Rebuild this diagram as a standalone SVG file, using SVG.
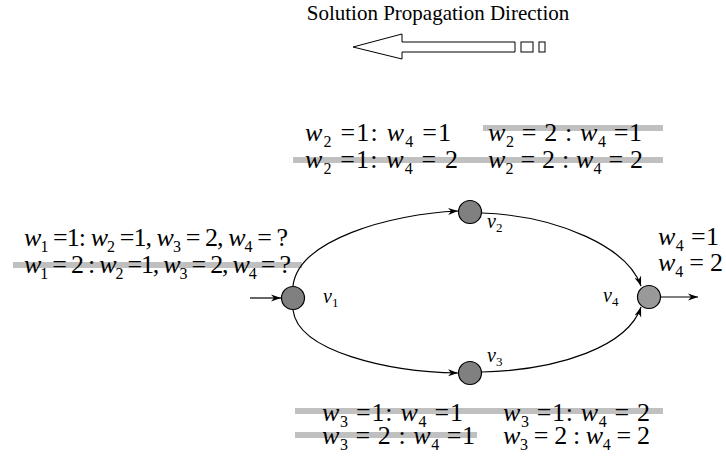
<svg xmlns="http://www.w3.org/2000/svg" width="726" height="465" viewBox="0 0 726 465">
<defs>
<style>
text{font-family:"Liberation Serif","Times New Roman",serif;fill:#000}
.m{font-size:26px}
.i{font-style:italic}
.s{font-size:16px}
.vl{font-size:20px}
.vs{font-size:13px}
.bar{stroke:#c0c0c0;stroke-width:6;fill:none}
.edge{stroke:#000;stroke-width:1.2;fill:none;marker-end:url(#ah)}
.node{fill:#808080;stroke:#000;stroke-width:1.2}
.box{fill:#fff;stroke:#000;stroke-width:1}
</style>
<marker id="ah" viewBox="0 0 10 10" refX="10" refY="5" markerWidth="10" markerHeight="10" markerUnits="userSpaceOnUse" orient="auto">
<path d="M0,1.5 L10,5 L0,8.5 L3,5 Z" fill="#000"/>
</marker>
</defs>
<rect width="726" height="465" fill="#fff"/>

<g id="title">
<text x="438" y="20" text-anchor="middle" style="font-size:21px">Solution Propagation Direction</text>
<path class="box" d="M353,47 L402,34 L402,42 L515,42 L515,52 L402,52 L402,59 Z"/>
<rect class="box" x="521" y="42" width="12" height="10"/>
<rect class="box" x="539" y="42" width="6" height="10"/>
</g>

<g id="bars">
<line class="bar" x1="483" y1="128" x2="663" y2="128"/>
<line class="bar" x1="293" y1="160" x2="663" y2="160"/>
<line class="bar" x1="13" y1="265" x2="302" y2="265"/>
<line class="bar" x1="295" y1="411" x2="663" y2="411"/>
<line class="bar" x1="295" y1="435" x2="477" y2="435"/>
</g>

<g id="connectors">
<path class="edge" d="M250,298 L281,298"/>
<path class="edge" d="M293,286 C298,240 390,214 458,211"/>
<path class="edge" d="M482,213 C560,216 628,248 641,286"/>
<path class="edge" d="M293,310 C298,352 390,372 458,373"/>
<path class="edge" d="M482,372 C560,370 628,346 641,307"/>
<path class="edge" d="M661,297 L698,297"/>
</g>

<g id="v1"><circle class="node" cx="293" cy="298" r="11.5"/>
<text x="323" y="303"><tspan class="i vl">v</tspan><tspan class="vs" dy="4">1</tspan></text></g>
<g id="v2"><circle class="node" cx="470" cy="212" r="11.5"/>
<text x="487" y="228"><tspan class="i vl">v</tspan><tspan class="vs" dy="4">2</tspan></text></g>
<g id="v3"><circle class="node" cx="470" cy="373" r="11.5"/>
<text x="487" y="362"><tspan class="i vl">v</tspan><tspan class="vs" dy="4">3</tspan></text></g>
<g id="v4"><circle class="node" cx="649" cy="297" r="11.5" style="fill:#999"/>
<text x="603" y="302"><tspan class="i vl">v</tspan><tspan class="vs" dy="4">4</tspan></text></g>

<g id="labels-top">
<text x="305" y="141" class="m" textLength="146" lengthAdjust="spacing"><tspan class="i">w</tspan><tspan class="s" dy="6">2</tspan><tspan dy="-6"> =1: </tspan><tspan class="i">w</tspan><tspan class="s" dy="6">4</tspan><tspan dy="-6"> =1</tspan></text>
<text x="488" y="141" class="m" textLength="154" lengthAdjust="spacing"><tspan class="i">w</tspan><tspan class="s" dy="6">2</tspan><tspan dy="-6"> = 2 : </tspan><tspan class="i">w</tspan><tspan class="s" dy="6">4</tspan><tspan dy="-6"> =1</tspan></text>
<text x="305" y="168" class="m" textLength="153" lengthAdjust="spacing"><tspan class="i">w</tspan><tspan class="s" dy="6">2</tspan><tspan dy="-6"> =1: </tspan><tspan class="i">w</tspan><tspan class="s" dy="6">4</tspan><tspan dy="-6"> = 2</tspan></text>
<text x="488" y="168" class="m" textLength="155" lengthAdjust="spacing"><tspan class="i">w</tspan><tspan class="s" dy="6">2</tspan><tspan dy="-6"> = 2 : </tspan><tspan class="i">w</tspan><tspan class="s" dy="6">4</tspan><tspan dy="-6"> = 2</tspan></text>
</g>

<g id="labels-left">
<text x="24" y="246" class="m" textLength="264" lengthAdjust="spacing"><tspan class="i">w</tspan><tspan class="s" dy="6">1</tspan><tspan dy="-6"> =1: </tspan><tspan class="i">w</tspan><tspan class="s" dy="6">2</tspan><tspan dy="-6"> =1, </tspan><tspan class="i">w</tspan><tspan class="s" dy="6">3</tspan><tspan dy="-6"> = 2, </tspan><tspan class="i">w</tspan><tspan class="s" dy="6">4</tspan><tspan dy="-6"> = ?</tspan></text>
<text x="24" y="273" class="m" textLength="267" lengthAdjust="spacing"><tspan class="i">w</tspan><tspan class="s" dy="6">1</tspan><tspan dy="-6"> = 2 : </tspan><tspan class="i">w</tspan><tspan class="s" dy="6">2</tspan><tspan dy="-6"> =1, </tspan><tspan class="i">w</tspan><tspan class="s" dy="6">3</tspan><tspan dy="-6"> = 2, </tspan><tspan class="i">w</tspan><tspan class="s" dy="6">4</tspan><tspan dy="-6"> = ?</tspan></text>
</g>

<g id="labels-right">
<text x="658" y="245" class="m" textLength="61" lengthAdjust="spacing"><tspan class="i">w</tspan><tspan class="s" dy="6">4</tspan><tspan dy="-6"> =1</tspan></text>
<text x="658" y="271" class="m" textLength="65" lengthAdjust="spacing"><tspan class="i">w</tspan><tspan class="s" dy="6">4</tspan><tspan dy="-6"> = 2</tspan></text>
</g>

<g id="labels-bottom">
<text x="322" y="421" class="m" textLength="141" lengthAdjust="spacing"><tspan class="i">w</tspan><tspan class="s" dy="6">3</tspan><tspan dy="-6"> =1: </tspan><tspan class="i">w</tspan><tspan class="s" dy="6">4</tspan><tspan dy="-6"> =1</tspan></text>
<text x="503" y="421" class="m" textLength="147" lengthAdjust="spacing"><tspan class="i">w</tspan><tspan class="s" dy="6">3</tspan><tspan dy="-6"> =1: </tspan><tspan class="i">w</tspan><tspan class="s" dy="6">4</tspan><tspan dy="-6"> = 2</tspan></text>
<text x="322" y="444" class="m" textLength="153" lengthAdjust="spacing"><tspan class="i">w</tspan><tspan class="s" dy="6">3</tspan><tspan dy="-6"> = 2 : </tspan><tspan class="i">w</tspan><tspan class="s" dy="6">4</tspan><tspan dy="-6"> =1</tspan></text>
<text x="503" y="444" class="m" textLength="147" lengthAdjust="spacing"><tspan class="i">w</tspan><tspan class="s" dy="6">3</tspan><tspan dy="-6"> = 2 : </tspan><tspan class="i">w</tspan><tspan class="s" dy="6">4</tspan><tspan dy="-6"> = 2</tspan></text>
</g>
</svg>
